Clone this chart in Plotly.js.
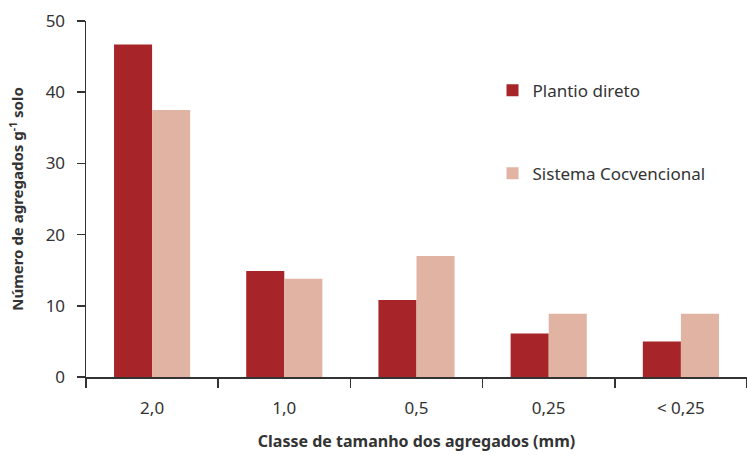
<!DOCTYPE html>
<html>
<head>
<meta charset="utf-8">
<script src="https://cdn.plot.ly/plotly-3.0.1.min.js"></script>
<style>
  html, body { margin: 0; padding: 0; background: #ffffff; }
  #chart { width: 747px; height: 455px; }
</style>
</head>
<body>
<div id="chart"></div>
<script>
// Aggregate size classes (mm)
const classes = ["2,0", "1,0", "0,5", "0,25", "< 0,25"];

// Number of aggregates per gram of soil, by tillage system
const plantioDireto = [46.7, 14.9, 10.8, 6.1, 5.0];
const sistemaConvencional = [37.5, 13.8, 17.0, 8.9, 8.9];

const seriesNames = ["Plantio direto", "Sistema Cocvencional"];
const seriesColors = ["#a72428", "#e0b3a3"];

const textColor = "#333333";
const fontFamily = "'Noto Sans', 'Open Sans', sans-serif";

const traces = [plantioDireto, sistemaConvencional].map((vals, i) => ({
  type: "bar",
  name: seriesNames[i],
  x: classes,
  y: vals,
  marker: { color: seriesColors[i], line: { width: 0 } },
  legendgroup: "g" + i,
  hoverinfo: "skip"
}));

const layout = {
  width: 747,
  height: 455,
  margin: { l: 86, r: 0, t: 21, b: 78, pad: 0 },
  paper_bgcolor: "#ffffff",
  plot_bgcolor: "#ffffff",
  font: { family: fontFamily, size: 16, color: textColor },
  barmode: "group",
  bargap: 0.424,
  bargroupgap: 0,
  showlegend: true,
  legend: {
    x: 0.615, xanchor: "left",
    y: 0.855, yanchor: "top",
    traceorder: "grouped",
    tracegroupgap: 58,
    font: { family: fontFamily, size: 17, color: textColor },
    bgcolor: "rgba(0,0,0,0)"
  },
  xaxis: {
    type: "category",
    range: [-0.5, 4.5],
    showline: true,
    linecolor: "#333333",
    linewidth: 1.5,
    ticks: "outside",
    tickson: "boundaries",
    ticklen: 9,
    tickwidth: 1.5,
    tickcolor: "#333333",
    showgrid: false,
    zeroline: false,
    tickfont: { family: fontFamily, size: 17, color: textColor },
    ticklabelstandoff: 15,
    title: {
      text: "Classe de tamanho dos agregados (mm)",
      font: { family: fontFamily, size: 16, color: textColor, weight: "bold" },
      standoff: 18
    }
  },
  yaxis: {
    range: [0, 50],
    tickvals: [0, 10, 20, 30, 40, 50],
    showline: true,
    linecolor: "#333333",
    linewidth: 1.5,
    ticks: "outside",
    ticklen: 8,
    tickwidth: 1.5,
    tickcolor: "#333333",
    showgrid: false,
    zeroline: false,
    tickfont: { family: fontFamily, size: 17, color: textColor },
    ticklabelstandoff: 8,
    title: {
      text: "Número de agregados g<sup>-1</sup> solo",
      font: { family: fontFamily, size: 15, color: textColor, weight: "bold" },
      standoff: 18
    }
  }
};

Plotly.newPlot("chart", traces, layout, { staticPlot: true, displayModeBar: false });
</script>
</body>
</html>
